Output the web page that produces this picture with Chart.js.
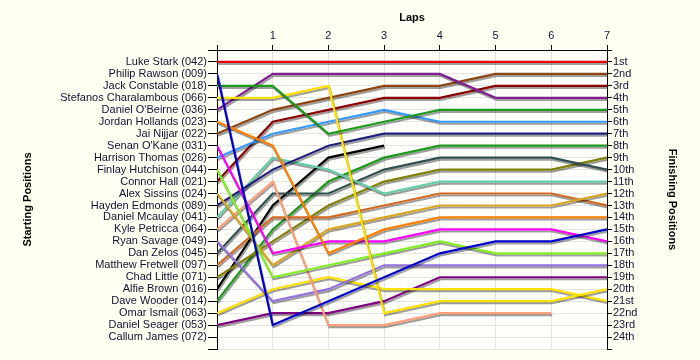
<!DOCTYPE html>
<html>
<head>
<meta charset="utf-8">
<script src="https://cdn.jsdelivr.net/npm/chart.js@4.4.1/dist/chart.umd.min.js"></script>
<style>
  html, body { margin: 0; padding: 0; background: #FFFFF2; }
  #wrap { width: 700px; height: 360px; }
</style>
</head>
<body>
<div id="wrap"><canvas id="c" width="700" height="360"></canvas></div>
<script>
// ---- data ----
const laps = [0, 1, 2, 3, 4, 5, 6, 7];
const drivers = [
  "Luke Stark (042)", "Philip Rawson (009)", "Jack Constable (018)", "Stefanos Charalambous (066)",
  "Daniel O'Beirne (036)", "Jordan Hollands (023)", "Jai Nijjar (022)", "Senan O'Kane (031)",
  "Harrison Thomas (026)", "Finlay Hutchison (044)", "Connor Hall (021)", "Alex Sissins (024)",
  "Hayden Edmonds (089)", "Daniel Mcaulay (041)", "Kyle Petricca (064)", "Ryan Savage (049)",
  "Dan Zelos (045)", "Matthew Fretwell (097)", "Chad Little (071)", "Alfie Brown (016)",
  "Dave Wooder (014)", "Omar Ismail (063)", "Daniel Seager (053)", "Callum James (072)"
];
const finishLabels = ["1st","2nd","3rd","4th","5th","6th","7th","8th","9th","10th","11th","12th",
  "13th","14th","15th","16th","17th","18th","19th","20th","21st","22nd","23rd","24th"];

// positions per lap (lap 0 .. lap 7); null = not running
const lukeStark        = [1, 1, 1, 1, 1, 1, 1, 1];
const philipRawson     = [2, 23, 21, 19, 17, 16, 16, 15];
const jackConstable    = [3, 3, 7, 6, 5, 5, 5, 5];
const stefanosChar     = [4, 4, 3, 22, 21, 21, 21, 20];
const danielOBeirne    = [5, 2, 2, 2, 2, 4, 4, 4];
const jordanHollands   = [6, 8, 17, 15, 14, 14, 14, 14];
const jaiNijjar        = [7, 5, 4, 3, 3, 2, 2, 2];
const senanOKane       = [8, 17, 16, 16, 15, 15, 15, 16];
const harrisonThomas   = [9, 7, 6, 5, 6, 6, 6, 6];
const finlayHutchison  = [10, 19, 18, 17, 16, 17, 17, 17];
const connorHall       = [11, 6, 5, 4, 4, 3, 3, 3];
const alexSissins      = [12, 18, 15, 14, 13, 13, 13, 12];
const haydenEdmonds    = [13, 10, 8, 7, 7, 7, 7, 7];
const danielMcaulay    = [14, 9, 10, 12, 11, 11, 11, 11];
const kylePetricca     = [15, 11, 23, 23, 22, 22, 22, null];
const ryanSavage       = [16, 21, 20, 18, 18, 18, 18, 18];
const danZelos         = [17, 12, 12, 10, 9, 9, 9, 10];
const matthewFretwell  = [18, 14, 14, 13, 12, 12, 12, 13];
const chadLittle       = [19, 16, 13, 11, 10, 10, 10, 9];
const alfieBrown       = [20, 13, 9, 8, null, null, null, null];
const daveWooder       = [21, 15, 11, 9, 8, 8, 8, 8];
const omarIsmail       = [22, 20, 19, 20, 20, 20, 20, 21];
const danielSeager     = [23, 22, 22, 21, 19, 19, 19, 19];
const callumJames      = [null, null, null, null, null, null, null, null];

const series = [lukeStark, philipRawson, jackConstable, stefanosChar, danielOBeirne, jordanHollands,
  jaiNijjar, senanOKane, harrisonThomas, finlayHutchison, connorHall, alexSissins, haydenEdmonds,
  danielMcaulay, kylePetricca, ryanSavage, danZelos, matthewFretwell, chadLittle, alfieBrown,
  daveWooder, omarIsmail, danielSeager, callumJames];

const colors = ["#EE0000", "#0000CC", "#1A9A1A", "#FFE100", "#7F1F8F", "#FF8000", "#8B4513", "#FF00FF",
  "#3399FF", "#80F020", "#8B0000", "#DAA520", "#1E1E78", "#66CDAA", "#FFA07A", "#9370DB",
  "#2F4F4F", "#D2691E", "#808000", "#000000", "#1A9A1A", "#FFE100", "#800080", "#888888"];

const datasets = series.map((s, i) => ({
  label: drivers[i],
  data: s.map((p, k) => ({ x: laps[k], y: p })).filter(pt => pt.y !== null),
  borderColor: colors[i],
  backgroundColor: colors[i],
  borderWidth: 2.2,
  pointRadius: 0,
  tension: 0,
  fill: false,
  yAxisID: 'y'
}));

const bgPlugin = {
  id: 'bg',
  beforeDraw(chart) {
    const ctx = chart.ctx, a = chart.chartArea;
    ctx.save();
    ctx.fillStyle = '#FFFFF2';
    ctx.fillRect(0, 0, chart.width, chart.height);
    ctx.fillStyle = '#FFFFFC';
    ctx.fillRect(a.left, a.top, a.right - a.left, a.bottom - a.top);
    ctx.restore();
  }
};
const shadowPlugin = {
  id: 'shadow',
  beforeDatasetDraw(chart) {
    const ctx = chart.ctx;
    ctx.save();
    ctx.shadowColor = 'rgba(0,0,0,0.38)';
    ctx.shadowOffsetX = 1;
    ctx.shadowOffsetY = 2;
    ctx.shadowBlur = 0;
  },
  afterDatasetDraw(chart) {
    chart.ctx.restore();
  }
};

const labelFont = { family: "'Liberation Sans', Arial, sans-serif", size: 11 };
const titleFont = { family: "'Liberation Sans', Arial, sans-serif", size: 11, weight: 'bold' };
const gridCol = '#E4E4E4';

new Chart(document.getElementById('c'), {
  type: 'line',
  data: { datasets },
  options: {
    responsive: false,
    animation: false,
    events: [],
    layout: { padding: { left: 0, right: 0, top: 0, bottom: 11 } },
    plugins: { legend: { display: false }, tooltip: { enabled: false } },
    scales: {
      x: {
        type: 'linear', position: 'top', min: 0, max: 7,
        afterFit(s) { s.height = 50; },
        ticks: { stepSize: 1, autoSkip: false, padding: 2, color: '#111133', font: labelFont,
                 callback: v => (v === 0 ? '' : String(v)) },
        grid: { color: gridCol, tickColor: '#000', tickLength: 5, lineWidth: 1 },
        border: { color: '#000', width: 1 },
        title: { display: true, text: 'Laps', color: '#000', font: titleFont, padding: { top: 11, bottom: 0 } }
      },
      y: {
        type: 'linear', position: 'left', min: 0, max: 25, reverse: true,
        afterFit(s) { s.width = 217; },
        ticks: { stepSize: 1, autoSkip: false, padding: 1, color: '#111133', font: labelFont,
                 callback: v => drivers[v - 1] || '' },
        grid: { color: gridCol, tickColor: '#000', tickLength: 9, lineWidth: 1 },
        border: { color: '#000', width: 1 },
        title: { display: true, text: 'Starting Positions', color: '#000', font: titleFont, padding: { top: 21, bottom: 0 } }
      },
      y2: {
        type: 'linear', position: 'right', min: 0, max: 25, reverse: true,
        afterFit(s) { s.width = 93; },
        ticks: { stepSize: 1, autoSkip: false, padding: 1, color: '#111133', font: labelFont,
                 callback: v => finishLabels[v - 1] || '' },
        grid: { drawOnChartArea: false, tickColor: '#000', tickLength: 5 },
        border: { color: '#000', width: 1 },
        title: { display: true, text: 'Finishing Positions', color: '#000', font: titleFont, padding: { top: 21, bottom: 0 } }
      }
    }
  },
  plugins: [bgPlugin, shadowPlugin]
});
</script>
</body>
</html>
